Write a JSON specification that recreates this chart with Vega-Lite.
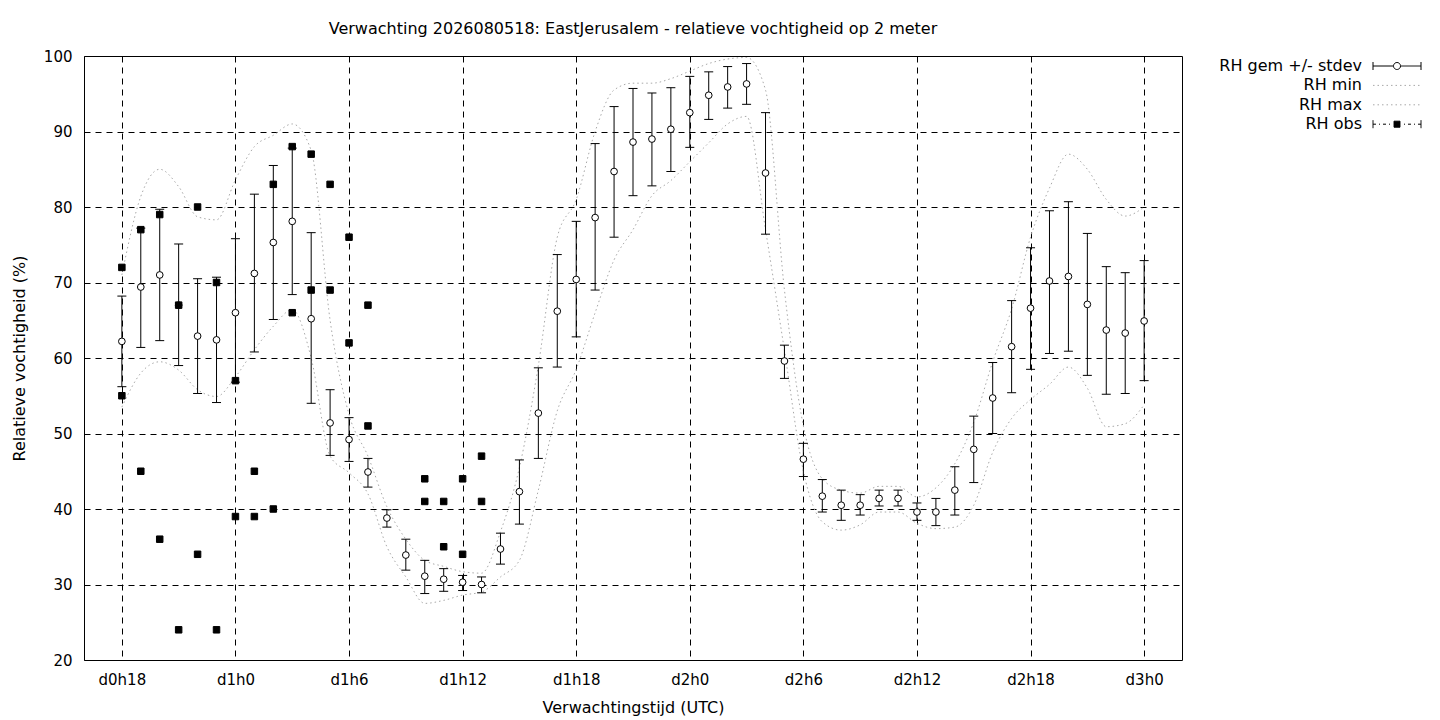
{
  "$schema": "https://vega.github.io/schema/vega-lite/v6.json",
  "width": 1098,
  "height": 604,
  "autosize": {"type": "none"},
  "padding": {"left": 84, "top": 56, "right": 258, "bottom": 60},
  "background": "white",
  "config": {
    "font": "DejaVu Sans",
    "view": {"stroke": "black", "strokeWidth": 1},
    "axis": {
      "labelFont": "DejaVu Sans", "labelFontSize": 15, "labelColor": "black",
      "titleFont": "DejaVu Sans", "titleFontSize": 16, "titleFontWeight": "normal", "titleColor": "black",
      "domain": false, "ticks": false, "grid": true,
      "gridColor": "black", "gridDash": [6, 5], "gridOpacity": 1, "gridWidth": 1
    }
  },
  "title": {
    "text": "Verwachting 2026080518: EastJerusalem - relatieve vochtigheid op 2 meter",
    "font": "DejaVu Sans", "fontSize": 16, "fontWeight": "normal", "color": "black",
    "anchor": "middle", "frame": "group", "offset": 12
  },
  "datasets": {
    "forecast": [
      {"hour": 18, "mean": 62.2, "lo": 56.2, "hi": 68.2, "min": 53.5, "max": 71.0},
      {"hour": 19, "mean": 69.4, "lo": 61.4, "hi": 77.2, "min": 58.0, "max": 81.4},
      {"hour": 20, "mean": 71.0, "lo": 62.3, "hi": 79.7, "min": 59.5, "max": 85.0},
      {"hour": 21, "mean": 67.0, "lo": 59.0, "hi": 75.1, "min": 58.4, "max": 82.7},
      {"hour": 22, "mean": 62.9, "lo": 55.3, "hi": 70.5, "min": 55.8, "max": 78.7},
      {"hour": 23, "mean": 62.4, "lo": 54.1, "hi": 70.7, "min": 54.9, "max": 78.3},
      {"hour": 24, "mean": 66.0, "lo": 56.8, "hi": 75.8, "min": 57.5, "max": 83.6},
      {"hour": 25, "mean": 71.2, "lo": 60.8, "hi": 81.7, "min": 61.1, "max": 88.0},
      {"hour": 26, "mean": 75.3, "lo": 65.1, "hi": 85.5, "min": 64.2, "max": 89.5},
      {"hour": 27, "mean": 78.1, "lo": 68.4, "hi": 87.8, "min": 66.4, "max": 91.0},
      {"hour": 28, "mean": 65.2, "lo": 54.0, "hi": 76.6, "min": 60.0, "max": 87.5},
      {"hour": 29, "mean": 51.4, "lo": 47.1, "hi": 55.8, "min": 47.0, "max": 65.0},
      {"hour": 30, "mean": 49.2, "lo": 46.3, "hi": 52.1, "min": 44.8, "max": 52.5},
      {"hour": 31, "mean": 44.9, "lo": 42.9, "hi": 46.7, "min": 42.0, "max": 47.0},
      {"hour": 32, "mean": 38.8, "lo": 37.6, "hi": 39.9, "min": 35.0, "max": 40.3},
      {"hour": 33, "mean": 33.9, "lo": 31.9, "hi": 36.0, "min": 31.0, "max": 36.0},
      {"hour": 34, "mean": 31.1, "lo": 28.8, "hi": 33.2, "min": 27.5, "max": 33.2},
      {"hour": 35, "mean": 30.7, "lo": 29.1, "hi": 32.1, "min": 27.9, "max": 32.4},
      {"hour": 36, "mean": 30.3, "lo": 29.2, "hi": 31.2, "min": 28.6, "max": 31.7},
      {"hour": 37, "mean": 30.0, "lo": 28.9, "hi": 31.0, "min": 29.0, "max": 31.5},
      {"hour": 38, "mean": 34.7, "lo": 32.7, "hi": 36.8, "min": 31.0, "max": 37.0},
      {"hour": 39, "mean": 42.3, "lo": 38.0, "hi": 46.5, "min": 33.2, "max": 45.5},
      {"hour": 40, "mean": 52.7, "lo": 46.7, "hi": 58.7, "min": 42.5, "max": 59.0},
      {"hour": 41, "mean": 66.2, "lo": 58.8, "hi": 73.7, "min": 53.0, "max": 76.0},
      {"hour": 42, "mean": 70.4, "lo": 62.8, "hi": 78.1, "min": 58.5, "max": 81.0},
      {"hour": 43, "mean": 78.6, "lo": 69.0, "hi": 88.4, "min": 66.0, "max": 90.0},
      {"hour": 44, "mean": 84.7, "lo": 76.0, "hi": 93.3, "min": 73.0, "max": 95.5},
      {"hour": 45, "mean": 88.6, "lo": 81.5, "hi": 95.7, "min": 77.0, "max": 96.4},
      {"hour": 46, "mean": 89.0, "lo": 82.8, "hi": 95.1, "min": 81.5, "max": 96.4},
      {"hour": 47, "mean": 90.3, "lo": 84.7, "hi": 95.8, "min": 83.5, "max": 97.0},
      {"hour": 48, "mean": 92.5, "lo": 87.9, "hi": 97.3, "min": 86.0, "max": 98.0},
      {"hour": 49, "mean": 94.8, "lo": 91.6, "hi": 97.9, "min": 88.5, "max": 99.0},
      {"hour": 50, "mean": 95.9, "lo": 93.1, "hi": 98.6, "min": 91.0, "max": 99.6},
      {"hour": 51, "mean": 96.3, "lo": 93.6, "hi": 99.0, "min": 92.0, "max": 99.8},
      {"hour": 52, "mean": 84.5, "lo": 76.4, "hi": 92.5, "min": 77.0, "max": 95.5},
      {"hour": 53, "mean": 59.6, "lo": 57.3, "hi": 61.7, "min": 61.0, "max": 69.0},
      {"hour": 54, "mean": 46.6, "lo": 44.3, "hi": 48.7, "min": 45.0, "max": 51.0},
      {"hour": 55, "mean": 41.7, "lo": 39.6, "hi": 43.9, "min": 38.3, "max": 44.0},
      {"hour": 56, "mean": 40.5, "lo": 38.5, "hi": 42.5, "min": 37.2, "max": 42.5},
      {"hour": 57, "mean": 40.5, "lo": 39.2, "hi": 41.9, "min": 37.9, "max": 42.1},
      {"hour": 58, "mean": 41.4, "lo": 40.4, "hi": 42.5, "min": 39.6, "max": 43.0},
      {"hour": 59, "mean": 41.4, "lo": 40.4, "hi": 42.5, "min": 39.6, "max": 43.0},
      {"hour": 60, "mean": 39.6, "lo": 38.5, "hi": 40.8, "min": 38.1, "max": 41.6},
      {"hour": 61, "mean": 39.6, "lo": 37.8, "hi": 41.4, "min": 37.4, "max": 42.8},
      {"hour": 62, "mean": 42.5, "lo": 39.2, "hi": 45.6, "min": 37.6, "max": 46.0},
      {"hour": 63, "mean": 47.9, "lo": 43.5, "hi": 52.3, "min": 40.5, "max": 51.5},
      {"hour": 64, "mean": 54.7, "lo": 50.0, "hi": 59.4, "min": 47.5, "max": 59.5},
      {"hour": 65, "mean": 61.5, "lo": 55.4, "hi": 67.6, "min": 52.0, "max": 66.5},
      {"hour": 66, "mean": 66.6, "lo": 58.5, "hi": 74.6, "min": 54.5, "max": 76.0},
      {"hour": 67, "mean": 70.2, "lo": 60.6, "hi": 79.5, "min": 56.5, "max": 82.5},
      {"hour": 68, "mean": 70.8, "lo": 60.9, "hi": 80.7, "min": 58.8, "max": 87.0},
      {"hour": 69, "mean": 67.1, "lo": 57.7, "hi": 76.5, "min": 56.0, "max": 85.0},
      {"hour": 70, "mean": 63.7, "lo": 55.2, "hi": 72.1, "min": 50.9, "max": 81.0},
      {"hour": 71, "mean": 63.3, "lo": 55.3, "hi": 71.3, "min": 51.3, "max": 78.8},
      {"hour": 72, "mean": 64.9, "lo": 57.0, "hi": 72.9, "min": 53.8, "max": 80.0}
    ],
    "obs": [
      {"hour": 18, "rh": 72}, {"hour": 18, "rh": 55},
      {"hour": 19, "rh": 77}, {"hour": 19, "rh": 45},
      {"hour": 20, "rh": 79}, {"hour": 20, "rh": 36},
      {"hour": 21, "rh": 67}, {"hour": 21, "rh": 24},
      {"hour": 22, "rh": 80}, {"hour": 22, "rh": 34},
      {"hour": 23, "rh": 70}, {"hour": 23, "rh": 24},
      {"hour": 24, "rh": 57}, {"hour": 24, "rh": 39},
      {"hour": 25, "rh": 45}, {"hour": 25, "rh": 39},
      {"hour": 26, "rh": 83}, {"hour": 26, "rh": 40},
      {"hour": 27, "rh": 88}, {"hour": 27, "rh": 66},
      {"hour": 28, "rh": 87}, {"hour": 28, "rh": 69},
      {"hour": 29, "rh": 83}, {"hour": 29, "rh": 69},
      {"hour": 30, "rh": 76}, {"hour": 30, "rh": 62},
      {"hour": 31, "rh": 67}, {"hour": 31, "rh": 51},
      {"hour": 34, "rh": 44}, {"hour": 34, "rh": 41},
      {"hour": 35, "rh": 41}, {"hour": 35, "rh": 35},
      {"hour": 36, "rh": 44}, {"hour": 36, "rh": 34},
      {"hour": 37, "rh": 47}, {"hour": 37, "rh": 41}
    ]
  },
  "encoding": {
    "x": {
      "field": "hour", "type": "quantitative",
      "scale": {"domain": [16, 74], "nice": false, "zero": false},
      "title": "Verwachtingstijd (UTC)",
      "axis": {
        "values": [18, 24, 30, 36, 42, 48, 54, 60, 66, 72],
        "labelExpr": "'d' + floor(datum.value / 24) + 'h' + (datum.value % 24)",
        "labelPadding": 12, "titlePadding": 12
      }
    }
  },
  "layer": [
    {
      "data": {"name": "forecast"},
      "mark": {"type": "line", "interpolate": "monotone", "strokeWidth": 1, "strokeDash": [1.5, 3]},
      "encoding": {
        "y": {"field": "min", "type": "quantitative", "scale": {"domain": [20, 100], "nice": false, "zero": false},
              "title": "Relatieve vochtigheid (%)",
              "axis": {"values": [20, 30, 40, 50, 60, 70, 80, 90, 100], "labelPadding": 12, "titlePadding": 16}},
        "stroke": {
          "datum": "RH min", "type": "nominal",
          "scale": {"domain": ["RH gem +/- stdev", "RH min", "RH max", "RH obs"], "range": ["black", "#a8a8a8", "#a8a8a8", "black"]},
          "legend": {
            "title": null, "orient": "none", "legendX": 1305, "legendY": 2,
            "labelAlign": "right", "labelOffset": -43, "labelFont": "DejaVu Sans", "labelFontSize": 16, "labelColor": "black",
            "symbolSize": 100, "rowPadding": 3.4, "labelLimit": 300,
            "encode": {
              "symbols": {
                "update": {
                  "shape": {"signal": "datum.value === 'RH gem +/- stdev' ? 'M-4.8,0L-0.75,0M0.75,0L4.8,0M-4.8,-0.8L-4.8,0.8M4.8,-0.8L4.8,0.8M0.7,0A0.7,0.7,0,1,1,-0.7,0A0.7,0.7,0,1,1,0.7,0Z' : datum.value === 'RH obs' ? 'M-4.8,-0.8L-4.8,0.8M4.8,-0.8L4.8,0.8M-4.8,0L-4.2,0M-3.6,0L-3.4,0M-2.8,0L-2.2,0M-1.6,0L-1.4,0M1.4,0L1.6,0M2.2,0L2.8,0M3.4,0L3.6,0M4.2,0L4.8,0M-0.6,-0.6L0.6,-0.6L0.6,0.6L-0.6,0.6Z' : 'M-4.8,0L4.8,0'"},
                  "fill": {"signal": "datum.value === 'RH obs' ? 'black' : datum.value === 'RH gem +/- stdev' ? 'white' : 'transparent'"},
                  "strokeDash": {"signal": "datum.value === 'RH min' || datum.value === 'RH max' ? [1.5, 3] : [1, 0]"},
                  "strokeWidth": {"value": 1},
                  "opacity": {"value": 1}
                }
              }
            }
          }
        }
      }
    },
    {
      "data": {"name": "forecast"},
      "mark": {"type": "line", "interpolate": "monotone", "strokeWidth": 1, "strokeDash": [1.5, 3]},
      "encoding": {
        "y": {"field": "max", "type": "quantitative", "title": "Relatieve vochtigheid (%)"},
        "stroke": {"datum": "RH max", "type": "nominal"}
      }
    },
    {
      "data": {"name": "forecast"},
      "mark": {"type": "rule", "strokeWidth": 1},
      "encoding": {
        "y": {"field": "lo", "type": "quantitative", "title": "Relatieve vochtigheid (%)"},
        "y2": {"field": "hi"},
        "stroke": {"datum": "RH gem +/- stdev", "type": "nominal"}
      }
    },
    {
      "data": {"name": "forecast"},
      "mark": {"type": "rule", "strokeWidth": 1, "xOffset": -4.5, "x2Offset": 4.5},
      "encoding": {
        "x2": {"field": "hour"},
        "y": {"field": "hi", "type": "quantitative", "title": "Relatieve vochtigheid (%)"},
        "stroke": {"datum": "RH gem +/- stdev", "type": "nominal"}
      }
    },
    {
      "data": {"name": "forecast"},
      "mark": {"type": "rule", "strokeWidth": 1, "xOffset": -4.5, "x2Offset": 4.5},
      "encoding": {
        "x2": {"field": "hour"},
        "y": {"field": "lo", "type": "quantitative", "title": "Relatieve vochtigheid (%)"},
        "stroke": {"datum": "RH gem +/- stdev", "type": "nominal"}
      }
    },
    {
      "data": {"name": "forecast"},
      "mark": {"type": "point", "shape": "circle", "size": 45, "fill": "white", "filled": false, "opacity": 1, "strokeWidth": 1},
      "encoding": {
        "y": {"field": "mean", "type": "quantitative", "title": "Relatieve vochtigheid (%)"},
        "stroke": {"datum": "RH gem +/- stdev", "type": "nominal"}
      }
    },
    {
      "data": {"name": "obs"},
      "mark": {"type": "point", "shape": "square", "size": 42, "fill": "black", "filled": false, "fillOpacity": 1, "opacity": 1, "strokeWidth": 1},
      "encoding": {
        "y": {"field": "rh", "type": "quantitative", "title": "Relatieve vochtigheid (%)"},
        "stroke": {"datum": "RH obs", "type": "nominal"}
      }
    }
  ]
}
